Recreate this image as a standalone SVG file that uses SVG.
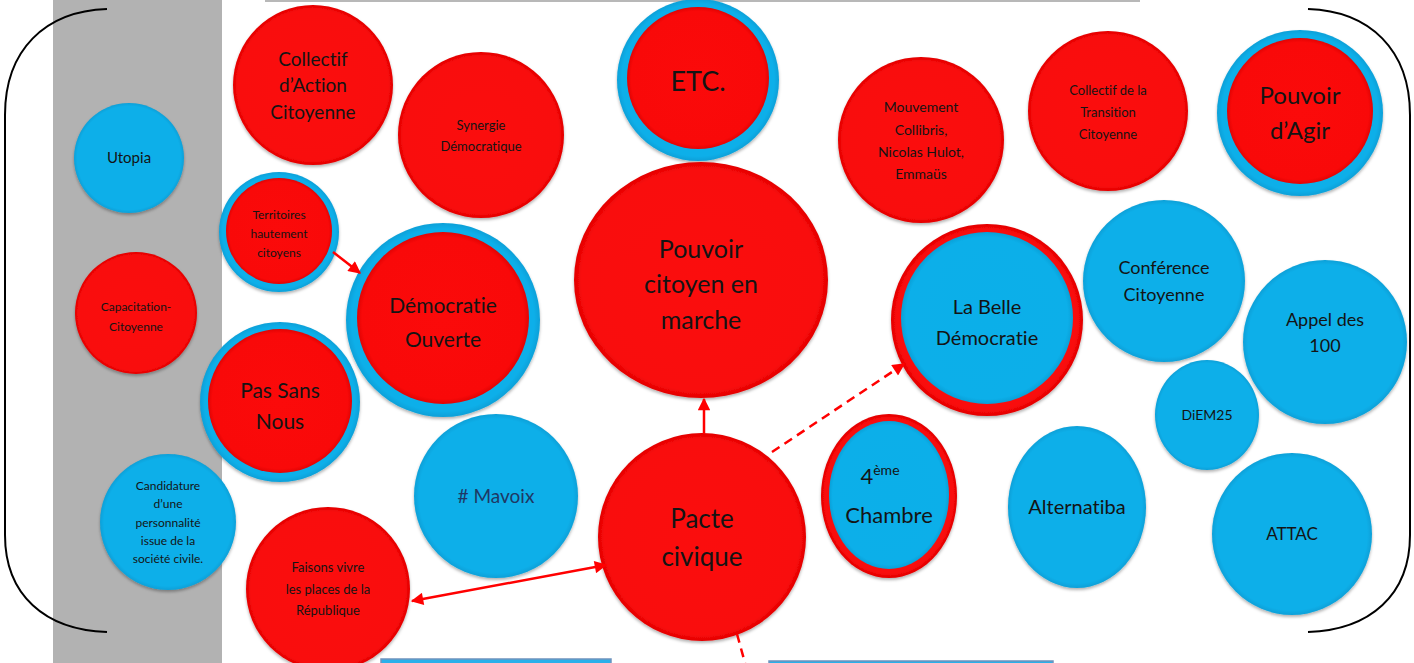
<svg xmlns="http://www.w3.org/2000/svg" width="1414" height="663" viewBox="0 0 1414 663">
<defs>
<radialGradient id="gr" cx="50%" cy="50%" r="50%">
<stop offset="0" stop-color="#fb0a0a"/><stop offset="0.94" stop-color="#f90909"/><stop offset="1" stop-color="#e20303"/>
</radialGradient>
<radialGradient id="gb" cx="50%" cy="50%" r="50%">
<stop offset="0" stop-color="#0bafe9"/><stop offset="0.94" stop-color="#0cafe9"/><stop offset="1" stop-color="#09a0d8"/>
</radialGradient>
<filter id="sh" x="-10%" y="-10%" width="120%" height="125%">
<feDropShadow dx="0" dy="2" stdDeviation="1.5" flood-color="#000" flood-opacity="0.3"/>
</filter>
<marker id="ah" viewBox="0 0 10 10" refX="9" refY="5" markerWidth="5.5" markerHeight="5" orient="auto-start-reverse" markerUnits="strokeWidth">
<path d="M0,0 L10,5 L0,10 z" fill="#f00"/>
</marker>
<style>
.r{fill:url(#gr);filter:url(#sh)}
.b{fill:url(#gb);filter:url(#sh)}
.rr{fill:url(#gr)}
.bb{fill:url(#gb)}
text{font-family:Lato,"Open Sans","Liberation Sans",sans-serif;fill:#141414;text-anchor:middle;font-variant-ligatures:none}
.c{stroke:#f00;stroke-width:2.5;fill:none}
.d{stroke-dasharray:9 6}
.br{stroke:#000;stroke-width:2;fill:none}
</style>
</defs>
<rect x="0" y="0" width="1414" height="663" fill="#fff"/>
<rect x="53" y="0" width="169" height="663" fill="#b2b2b2"/>
<rect x="266" y="-20" width="873" height="21" fill="#fff" stroke="#b8b8b8" stroke-width="2"/>
<rect x="381" y="659" width="230" height="20" fill="#2ab0ea" stroke="#6f93bd" stroke-width="1.5"/>
<rect x="769" y="661" width="284" height="20" fill="#2ab0ea" stroke="#6f93bd" stroke-width="1.5"/>
<path class="br" d="M107,9 C45,11 5,50 5,115 L5,535 C5,595 45,630 107,632"/>
<path class="br" d="M1308,9 C1370,11 1410,50 1410,115 L1410,535 C1410,595 1370,630 1308,632"/>

<g id="collectif-action"><circle class="r" cx="313" cy="85" r="80"/>
<text font-size="19"><tspan x="313" y="66">Collectif</tspan><tspan x="313" y="92">d’Action</tspan><tspan x="313" y="119">Citoyenne</tspan></text></g>
<g id="synergie"><circle class="r" cx="481" cy="135" r="83"/>
<text font-size="13"><tspan x="481" y="130">Synergie</tspan><tspan x="481" y="151">Démocratique</tspan></text></g>
<g id="etc"><circle class="b" cx="698" cy="80" r="81"/><circle class="rr" cx="698" cy="78" r="71"/>
<text font-size="27" x="698" y="91">ETC.</text></g>
<g id="mouvement"><circle class="r" cx="921" cy="140" r="83"/>
<text font-size="14"><tspan x="921" y="112">Mouvement</tspan><tspan x="921" y="135">Collibris,</tspan><tspan x="921" y="157">Nicolas Hulot,</tspan><tspan x="921" y="179">Emmaüs</tspan></text></g>
<g id="transition"><circle class="r" cx="1108" cy="111" r="80"/>
<text font-size="13"><tspan x="1108" y="95">Collectif de la</tspan><tspan x="1108" y="117">Transition</tspan><tspan x="1108" y="139">Citoyenne</tspan></text></g>
<g id="pouvoir-agir"><circle class="b" cx="1300" cy="113" r="83"/><circle class="rr" cx="1300" cy="111" r="73"/>
<text font-size="24"><tspan x="1300" y="104">Pouvoir</tspan><tspan x="1300" y="139">d’Agir</tspan></text></g>
<g id="utopia"><circle class="b" cx="129" cy="158" r="55"/>
<text font-size="15" x="129" y="163">Utopia</text></g>
<g id="capacitation"><circle class="r" cx="136" cy="313" r="61"/>
<text font-size="12"><tspan x="136" y="311">Capacitation-</tspan><tspan x="136" y="331">Citoyenne</tspan></text></g>
<g id="territoires"><circle class="b" cx="279" cy="232" r="60"/><circle class="rr" cx="279" cy="231" r="53"/>
<text font-size="12"><tspan x="279" y="219">Territoires</tspan><tspan x="279" y="238">hautement</tspan><tspan x="279" y="257">citoyens</tspan></text></g>
<g id="democratie-ouverte"><circle class="b" cx="443" cy="320" r="97"/><circle class="rr" cx="443" cy="318" r="86"/>
<text font-size="21"><tspan x="443" y="313">Démocratie</tspan><tspan x="443" y="347">Ouverte</tspan></text></g>
<g id="pas-sans-nous"><circle class="b" cx="280" cy="402" r="80"/><circle class="rr" cx="280" cy="401" r="72"/>
<text font-size="21"><tspan x="280" y="398">Pas Sans</tspan><tspan x="280" y="429">Nous</tspan></text></g>
<g id="candidature"><circle class="b" cx="168" cy="522" r="68"/>
<text font-size="12"><tspan x="168" y="490">Candidature</tspan><tspan x="168" y="508">d’une</tspan><tspan x="168" y="527">personnalité</tspan><tspan x="168" y="545">issue de la</tspan><tspan x="168" y="563">société civile.</tspan></text></g>
<g id="mavoix"><circle class="b" cx="496" cy="496" r="82"/>
<text font-size="19" x="496" y="503" style="fill:#1f3864"># Mavoix</text></g>
<g id="faisons"><ellipse class="r" cx="328" cy="589" rx="82" ry="82"/>
<text font-size="13"><tspan x="328" y="572">Faisons vivre</tspan><tspan x="328" y="594">les places de la</tspan><tspan x="328" y="615">République</tspan></text></g>
<g id="pouvoir-citoyen"><ellipse class="r" cx="701" cy="280" rx="127" ry="118"/>
<text font-size="25"><tspan x="701" y="258">Pouvoir</tspan><tspan x="701" y="293">citoyen en</tspan><tspan x="701" y="329">marche</tspan></text></g>
<g id="pacte"><circle class="r" cx="702" cy="537" r="104"/>
<text font-size="26"><tspan x="702" y="528">Pacte</tspan><tspan x="702" y="566">civique</tspan></text></g>
<g id="belle-democratie"><circle class="r" cx="987" cy="320" r="96"/><circle class="bb" cx="987" cy="318" r="86"/>
<text font-size="20"><tspan x="987" y="314">La Belle</tspan><tspan x="987" y="345">Démocratie</tspan></text></g>
<g id="quatrieme"><ellipse class="r" cx="889" cy="496" rx="68" ry="82"/><ellipse class="bb" cx="889" cy="495" rx="60" ry="74"/>
<text font-size="22"><tspan x="880" y="484">4</tspan><tspan font-size="14" dy="-9">ème</tspan><tspan x="889" y="523">Chambre</tspan></text></g>
<g id="alternatiba"><ellipse class="b" cx="1077" cy="507" rx="69" ry="81"/>
<text font-size="20" x="1077" y="514">Alternatiba</text></g>
<g id="attac"><ellipse class="b" cx="1292" cy="534" rx="80" ry="81"/>
<text font-size="17" x="1292" y="540">ATTAC</text></g>
<g id="diem25"><ellipse class="b" cx="1207" cy="415" rx="52" ry="55"/>
<text font-size="14" x="1207" y="420">DiEM25</text></g>
<g id="conference"><circle class="b" cx="1164" cy="281" r="81"/>
<text font-size="18"><tspan x="1164" y="274">Conférence</tspan><tspan x="1164" y="301">Citoyenne</tspan></text></g>
<g id="appel"><circle class="b" cx="1325" cy="342" r="82"/>
<text font-size="18"><tspan x="1325" y="326">Appel des</tspan><tspan x="1325" y="352">100</tspan></text></g>

<g id="connectors">
<line class="c" x1="333" y1="252" x2="360" y2="273" marker-end="url(#ah)"/>
<line class="c" x1="704" y1="434" x2="704" y2="399" marker-end="url(#ah)"/>
<line class="c d" x1="772" y1="452" x2="904" y2="364" marker-end="url(#ah)"/>
<line class="c" x1="412" y1="601" x2="606" y2="565" marker-start="url(#ah)" marker-end="url(#ah)"/>
<line class="c d" x1="737" y1="634" x2="745" y2="663"/>
</g>
</svg>
